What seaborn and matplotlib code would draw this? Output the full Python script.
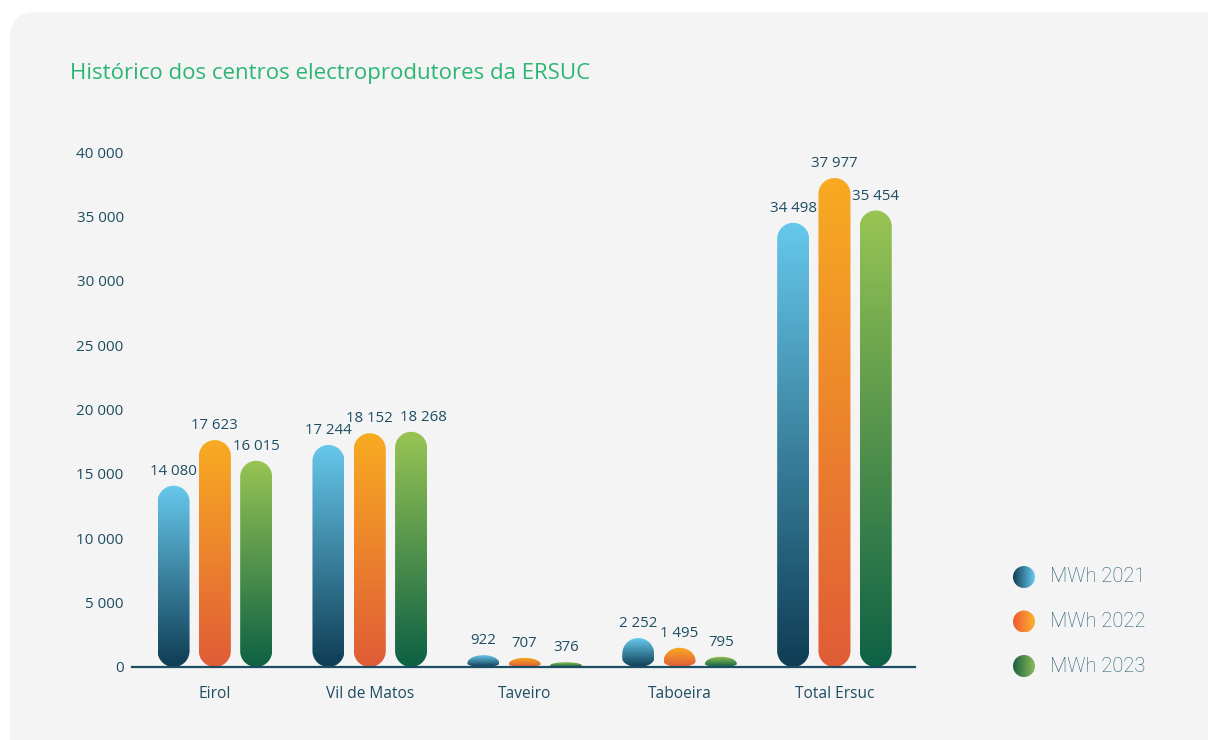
import numpy as np
import pandas as pd
import matplotlib.pyplot as plt
import seaborn as sns
from matplotlib.patches import FancyBboxPatch, Polygon, Circle
from matplotlib.colors import LinearSegmentedColormap

# data
centros = ["Eirol", "Vil de Matos", "Taveiro", "Taboeira", "Total Ersuc"]
anos = ["MWh 2021", "MWh 2022", "MWh 2023"]
mwh_2021 = [14080, 17244, 922, 2252, 34498]
mwh_2022 = [17623, 18152, 707, 1495, 37977]
mwh_2023 = [16015, 18268, 376, 795, 35454]
y_ticks = [0, 5000, 10000, 15000, 20000, 25000, 30000, 35000, 40000]

# gradient colours (top, bottom) per year
grad_colors = {
    "MWh 2021": ("#67c8ec", "#0f3d54"),
    "MWh 2022": ("#f8ab22", "#e05c37"),
    "MWh 2023": ("#98c453", "#0d6145"),
}
legend_colors = {
    "MWh 2021": ("#0f3f56", "#68cbf0"),
    "MWh 2022": ("#ef5b30", "#fbb231"),
    "MWh 2023": ("#1b6140", "#8bbb58"),
}
text_col = "#1d4d63"

df = pd.DataFrame({
    "centro": centros * 3,
    "ano": [a for a in anos for _ in centros],
    "mwh": mwh_2021 + mwh_2022 + mwh_2023,
})

W, H = 1208, 740
fig = plt.figure(figsize=(W / 100, H / 100), dpi=100)
fig.patch.set_facecolor("white")

# light panel behind the chart
panel = FancyBboxPatch(
    (10 / W, -0.05), 1.2, 1.05 - 12 / H,
    boxstyle="round,pad=0,rounding_size=%f" % (26 / W),
    mutation_aspect=W / H,
    transform=fig.transFigure, facecolor="#f4f4f4", edgecolor="none", zorder=-10,
)
fig.patches.append(panel)

fig.text(70 / W, 1 - 74 / H, "Histórico dos centros electroprodutores da ERSUC",
         color="#2bb673", fontsize=16, family="Open Sans", va="center", ha="left")

ax_l, ax_r, ax_t, ax_b = 132, 915, 152, 667
ax = fig.add_axes([ax_l / W, 1 - ax_b / H, (ax_r - ax_l) / W, (ax_b - ax_t) / H])
ax.patch.set_alpha(0)

sns.barplot(data=df, x="centro", y="mwh", hue="ano", order=centros, hue_order=anos,
            width=0.8, legend=False, ax=ax)

xlim = (-0.535, 4.52)
ylim = (0, 40000)
ax.set_xlim(*xlim)
ax.set_ylim(*ylim)

x_per_px = (xlim[1] - xlim[0]) / (ax_r - ax_l)
y_per_px = (ylim[1] - ylim[0]) / (ax_b - ax_t)
bar_w = 32 * x_per_px
r_x = bar_w / 2
r_y = 16 * y_per_px


def pill(xc, h):
    ry_top = min(r_y, h * 0.7)
    ry_bot = min(r_y, h * 0.3)
    t = np.linspace(0, np.pi, 40)
    top = np.column_stack([xc + r_x * np.cos(t), h - ry_top + ry_top * np.sin(t)])
    bot = np.column_stack([xc - r_x * np.cos(t), ry_bot - ry_bot * np.sin(t)])
    return np.vstack([top, bot])


prev_h = {}
for k, (ano, cont) in enumerate(zip(anos, ax.containers)):
    c_top, c_bot = grad_colors[ano]
    cmap = LinearSegmentedColormap.from_list(ano, [c_bot, c_top])
    grad = np.linspace(0, 1, 256).reshape(-1, 1)
    for j, bar in enumerate(cont):
        xc = bar.get_x() + bar.get_width() / 2
        h = bar.get_height()
        bar.set_visible(False)
        poly = Polygon(pill(xc, h), closed=True, facecolor="none", edgecolor="none")
        ax.add_patch(poly)
        im = ax.imshow(grad, cmap=cmap, origin="lower", aspect="auto",
                       extent=(xc - r_x, xc + r_x, 0, h), zorder=2)
        im.set_clip_path(poly)
        # nudge a label right when it would collide with its left neighbour
        dx = 0
        if k > 0 and h > 5000 and abs(h - prev_h[j]) < 0.02 * ylim[1]:
            dx = 9
        prev_h[j] = h
        ax.annotate(f"{int(h):,}".replace(",", " "), (xc, h), xytext=(dx, 5),
                    textcoords="offset points", ha="center", va="bottom",
                    color=text_col, fontsize=10.8, family="Open Sans", zorder=3)

ax.set_xlim(*xlim)
ax.set_ylim(*ylim)
ax.set_yticks(y_ticks)
ax.set_yticklabels([f"{v:,}".replace(",", " ") for v in y_ticks])
ax.set_xlabel("")
ax.set_ylabel("")
for s in ["top", "right", "left"]:
    ax.spines[s].set_visible(False)
ax.spines["bottom"].set_color(text_col)
ax.spines["bottom"].set_linewidth(1.6)
ax.spines["bottom"].set_zorder(4)
ax.tick_params(axis="y", length=0, pad=6, labelcolor=text_col, labelsize=11)
ax.tick_params(axis="x", length=0, pad=14, labelcolor=text_col, labelsize=11.2)
for lab in ax.get_xticklabels() + ax.get_yticklabels():
    lab.set_family("Open Sans")

# legend with gradient dots
lg = fig.add_axes([1000 / W, 1 - 690 / H, 180 / W, 140 / H])
lg.set_xlim(0, 180)
lg.set_ylim(140, 0)
lg.axis("off")
for i, ano in enumerate(anos):
    cy = 27 + i * 44.5
    cx = 24
    c_l, c_r = legend_colors[ano]
    cmap = LinearSegmentedColormap.from_list(ano + "l", [c_l, c_r])
    circ = Circle((cx, cy), 11, facecolor="none", edgecolor="none")
    lg.add_patch(circ)
    im = lg.imshow(np.linspace(0, 1, 128).reshape(1, -1), cmap=cmap, aspect="auto",
                   extent=(cx - 11, cx + 11, cy + 11, cy - 11))
    im.set_clip_path(circ)
    lg.text(50, cy, ano, color="#245b71", fontsize=14.5, family="Roboto",
            va="center", ha="left", fontweight="light")
lg.set_xlim(0, 180)
lg.set_ylim(140, 0)

fig.savefig("out.png", dpi=100)
